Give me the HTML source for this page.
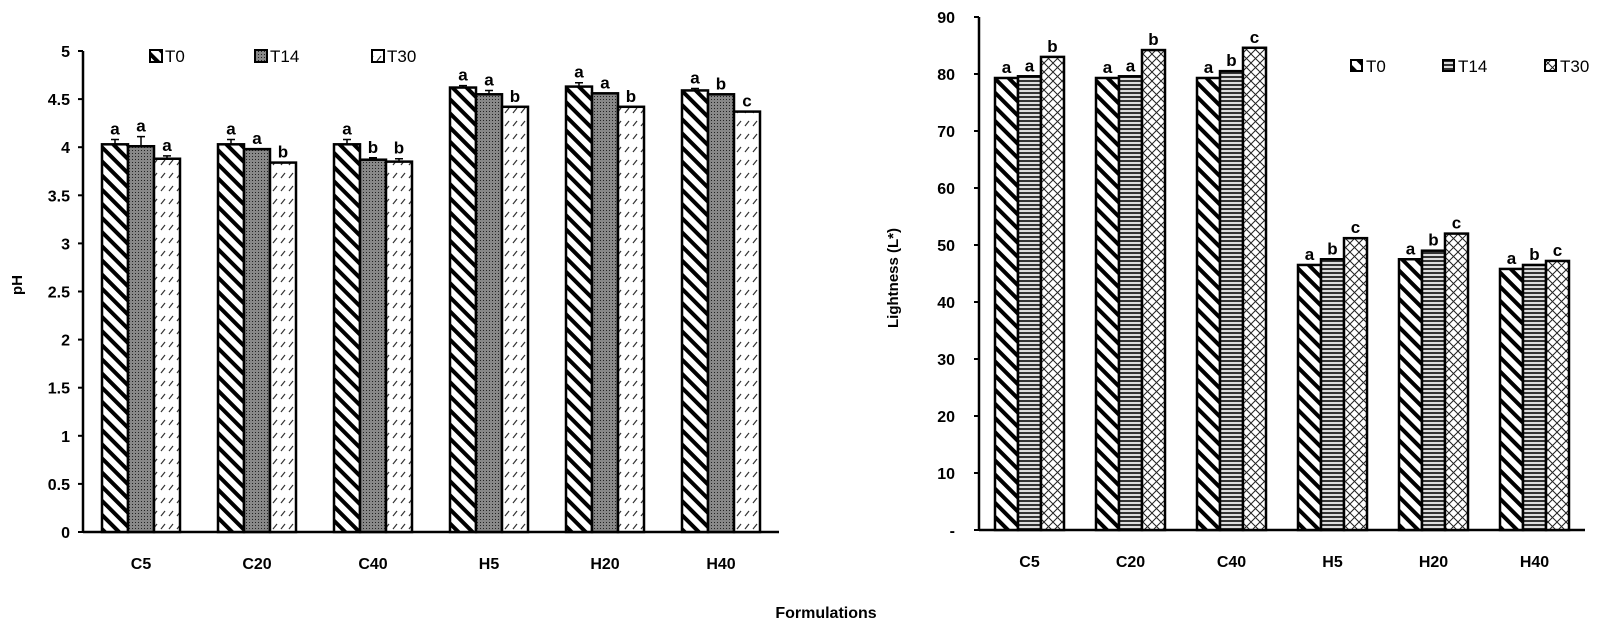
<!DOCTYPE html>
<html><head><meta charset="utf-8"><style>
html,body{margin:0;padding:0;background:#fff;width:1614px;height:635px;overflow:hidden}
svg{display:block}
text{font-family:"Liberation Sans",sans-serif}
</style></head><body>
<svg id="s" width="1614" height="635" xmlns="http://www.w3.org/2000/svg">
<defs>
<pattern id="pd" patternUnits="userSpaceOnUse" width="10" height="10" patternTransform="rotate(45)">
<rect width="10" height="10" fill="#fff"/><rect x="0" y="0" width="10" height="4" fill="#000"/></pattern>
<pattern id="pg" patternUnits="userSpaceOnUse" width="3" height="3">
<rect width="3" height="3" fill="#888"/><rect width="1" height="1" fill="#222"/></pattern>
<pattern id="pw" patternUnits="userSpaceOnUse" width="8" height="13">
<rect width="8" height="13" fill="#fff"/><line x1="1" y1="9" x2="5" y2="4" stroke="#333" stroke-width="1.2"/></pattern>
<pattern id="ph" patternUnits="userSpaceOnUse" width="4" height="4">
<rect width="4" height="4" fill="#ddd"/><rect y="0" width="4" height="2" fill="#333"/></pattern>
<pattern id="px" patternUnits="userSpaceOnUse" width="9" height="9">
<rect width="9" height="9" fill="#fff"/><path d="M0 0L9 9M9 0L0 9" stroke="#222" stroke-width="1"/></pattern>
</defs>
<g id="g"></g>
</svg>
<script>
var g=document.getElementById('g'),h='';
function T(x,y,t,a,sz,w,extra){h+='<text x="'+x+'" y="'+y+'" font-size="'+(sz||16)+'" font-weight="'+(w||'bold')+'" text-anchor="'+(a||'middle')+'" '+(extra||'')+'>'+t+'</text>';}
var cats=['C5','C20','C40','H5','H20','H40'];
// Left chart
var ax=83,base=532,top0=51,sp=116,bw=26;
function yl(v){return base-v*96.2;}
h+='<line x1="'+ax+'" y1="'+top0+'" x2="'+ax+'" y2="'+base+'" stroke="#000" stroke-width="2.5"/>';
h+='<line x1="'+ax+'" y1="'+base+'" x2="'+(ax+6*sp)+'" y2="'+base+'" stroke="#000" stroke-width="2.5"/>';
for(var i=0;i<=10;i++){var v=i/2,y=yl(v);h+='<line x1="'+(ax-5)+'" y1="'+y+'" x2="'+ax+'" y2="'+y+'" stroke="#000" stroke-width="2"/>';T(70,y+6,String(v),'end',16);}
var L=[[4.03,4.03,4.03,4.62,4.63,4.59],[4.01,3.98,3.87,4.55,4.56,4.55],[3.88,3.84,3.85,4.42,4.42,4.37]];
var LE=[[0.05,0.05,0.05,0.02,0.04,0.02],[0.1,0,0.02,0.04,0,0],[0.03,0,0.03,0,0,0]];
var LL=[['a','a','a','a','a','a'],['a','a','b','a','a','b'],['a','b','b','b','b','c']];
var pl=['pd','pg','pw'];
for(var c=0;c<6;c++){var cx=ax+sp*c+sp/2;T(cx,569,cats[c]);
 for(var s=0;s<3;s++){var x=cx-1.5*bw+s*bw,y=yl(L[s][c]);
  if(LE[s][c]>0){var ye=yl(L[s][c]+LE[s][c]);h+='<path d="M'+(x+bw/2)+' '+y+'V'+ye+'M'+(x+bw/2-4)+' '+ye+'H'+(x+bw/2+4)+'" stroke="#000" stroke-width="1.5"/>';}
  h+='<rect x="'+x+'" y="'+y+'" width="'+bw+'" height="'+(base-y)+'" fill="url(#'+pl[s]+')" stroke="#000" stroke-width="2.5"/>';
  T(x+bw/2,y-(LE[s][c]>0?yl(0)-yl(LE[s][c])+5:5),LL[s][c],'middle',17);}}
var lg=[[150,'T0','pd'],[255,'T14','pg'],[372,'T30','pw']];
lg.forEach(function(l){h+='<rect x="'+l[0]+'" y="50" width="12" height="12" fill="url(#'+l[2]+')" stroke="#000" stroke-width="2"/>';T(l[0]+15,62,l[1],'start',17,'normal');});
T(22,285,'pH','middle',15,'bold','transform="rotate(-90 22 285)"');
// Right chart
var ax2=979,b2=530,sp2=101,bw2=23;
function yr(v){return b2-v*5.7;}
h+='<line x1="'+ax2+'" y1="'+yr(90)+'" x2="'+ax2+'" y2="'+b2+'" stroke="#000" stroke-width="2.5"/>';
h+='<line x1="'+ax2+'" y1="'+b2+'" x2="'+(ax2+6*sp2)+'" y2="'+b2+'" stroke="#000" stroke-width="2.5"/>';
for(var i=0;i<=9;i++){var v=i*10,y=yr(v);h+='<line x1="'+(ax2-5)+'" y1="'+y+'" x2="'+ax2+'" y2="'+y+'" stroke="#000" stroke-width="2"/>';T(955,y+6,i==0?'-':String(v),'end',16);}
var R=[[79.3,79.3,79.3,46.5,47.5,45.8],[79.6,79.6,80.5,47.5,49,46.5],[83,84.2,84.6,51.2,52,47.2]];
var RL=[['a','a','a','a','a','a'],['a','a','b','b','b','b'],['b','b','c','c','c','c']];
var pr=['pd','ph','px'];
for(var c=0;c<6;c++){var cx=ax2+sp2*c+sp2/2;T(cx,567,cats[c]);
 for(var s=0;s<3;s++){var x=cx-1.5*bw2+s*bw2,y=yr(R[s][c]);
  h+='<rect x="'+x+'" y="'+y+'" width="'+bw2+'" height="'+(b2-y)+'" fill="url(#'+pr[s]+')" stroke="#000" stroke-width="2.5"/>';
  T(x+bw2/2,y-5,RL[s][c],'middle',17);}}
var lg2=[[1351,'T0','pd'],[1443,'T14','ph'],[1545,'T30','px']];
lg2.forEach(function(l){h+='<rect x="'+l[0]+'" y="60" width="11" height="11" fill="url(#'+l[2]+')" stroke="#000" stroke-width="2"/>';T(l[0]+15,72,l[1],'start',17,'normal');});
T(898,278,'Lightness (L*)','middle',15,'bold','transform="rotate(-90 898 278)"');
T(826,618,'Formulations','middle',16);
g.innerHTML=h;
</script>
</body></html>
